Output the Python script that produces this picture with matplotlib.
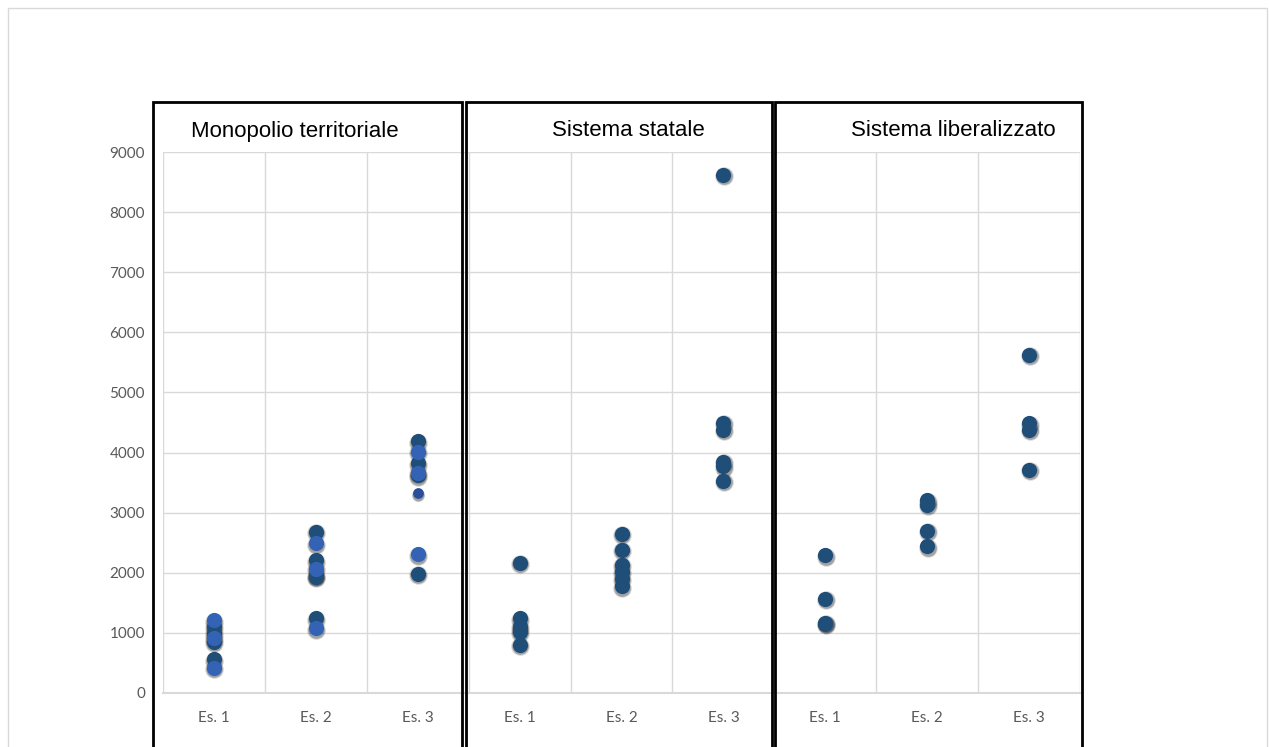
import matplotlib.pyplot as plt
import matplotlib.transforms as mtransforms
from matplotlib.patches import Rectangle

# categories: three exercises repeated for each system
labels = ["Es. 1", "Es. 2", "Es. 3"] * 3
titles = ["Monopolio territoriale", "Sistema statale", "Sistema liberalizzato"]

# Monopolio territoriale (two shades in the original)
mono_dark = [[1100, 1000, 850, 560],
             [2680, 2210, 1960, 1930, 1240],
             [4190, 3820, 3620, 1980]]
mono_light = [[1210, 920, 420],
              [2490, 2070, 1080],
              [4010, 3660, 2310]]
mono_small = [[], [], [3320]]

statale = [[2170, 1240, 1100, 1020, 800],
           [2650, 2380, 2130, 2020, 1900, 1780],
           [8620, 4500, 4380, 3850, 3770, 3530]]

liberal = [[2290, 1570, 1170, 1150],
           [3210, 3130, 2700, 2440],
           [5630, 4490, 4380, 3710]]

DARK = "#1f4e79"
LIGHT = "#3463b5"
SMALL = "#2a4f9a"

W, H = 1269, 747
fig = plt.figure(figsize=(W / 100, H / 100), dpi=100)
ax = fig.add_axes([163 / W, 54 / H, 917 / W, 541 / H])

shadow = mtransforms.offset_copy(ax.transData, fig=fig, x=0.5, y=-1.5, units="dots")


def put(groups, offset, color, size):
    for i, vals in enumerate(groups):
        xs = [offset + i + 1] * len(vals)
        # soft dark shadow: two layers
        ax.scatter(xs, vals, s=size * 1.5, color="#000000", alpha=0.15,
                   linewidths=0, transform=shadow, zorder=3)
        ax.scatter(xs, vals, s=size * 1.2, color="#000000", alpha=0.25,
                   linewidths=0, transform=shadow, zorder=3)
        ax.scatter(xs, vals, s=size, color=color, linewidths=0, zorder=4)


put(mono_dark, 0, DARK, 120)
put(mono_light, 0, LIGHT, 120)
put(mono_small, 0, SMALL, 60)
put(statale, 3, DARK, 120)
put(liberal, 6, DARK, 120)

ax.set_xlim(0.5, 9.5)
ax.set_ylim(0, 9000)
ax.set_yticks(range(0, 9001, 1000))
ax.set_xticks(range(1, 10))
ax.set_xticklabels(labels)
ax.set_xticks([k + 0.5 for k in range(0, 10)], minor=True)
ax.grid(True, which="minor", axis="x", color="#d9d9d9", lw=1)
ax.grid(True, which="major", axis="y", color="#d9d9d9", lw=1)
ax.set_axisbelow(True)
ax.tick_params(axis="both", which="both", length=0)
ax.tick_params(axis="y", pad=13, labelsize=11, labelcolor="#595959")
ax.tick_params(axis="x", pad=13, labelsize=11, labelcolor="#595959")
for lab in ax.get_xticklabels() + ax.get_yticklabels():
    lab.set_fontfamily("Lato")
for s in ["top", "right", "left"]:
    ax.spines[s].set_visible(False)
ax.spines["bottom"].set_color("#d9d9d9")
ax.spines["bottom"].set_linewidth(1.5)

# outer chart border
fig.patches.append(Rectangle((8 / W, -0.05), 1259 / W, (H - 8) / H + 0.05,
                             transform=fig.transFigure, fill=False,
                             edgecolor="#d9d9d9", lw=1, zorder=0))

# black frames around each system
frames = [(153, 462), (466, 772), (775, 1082)]
title_x = [191, 552, 851]
for (l, r), t, tx in zip(frames, titles, title_x):
    fig.patches.append(Rectangle((l / W, -0.05), (r - l) / W, (H - 102) / H + 0.05,
                                 transform=fig.transFigure, fill=False,
                                 edgecolor="black", lw=2, zorder=10))
    fig.text(tx / W, (H - 131) / H, t, ha="left", va="center",
             fontsize=16, family="Liberation Sans", color="black")

fig.savefig("out.png", dpi=100)
